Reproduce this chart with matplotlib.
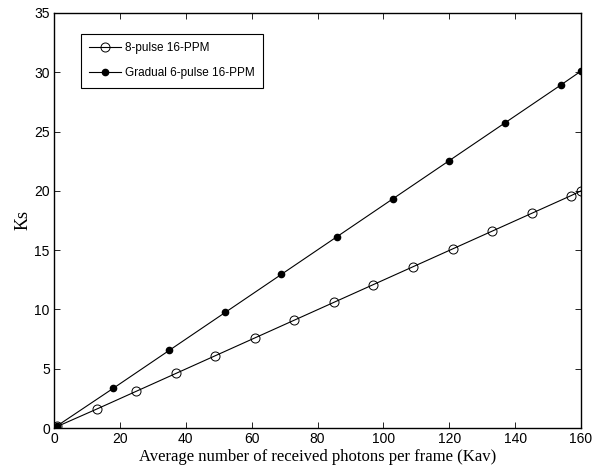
import matplotlib
matplotlib.use("Agg")
import matplotlib.pyplot as plt

x_open = [1, 13, 25, 37, 49, 61, 73, 85, 97, 109, 121, 133, 145, 157, 160]
y_open = [0.13, 1.6, 3.1, 4.6, 6.1, 7.6, 9.1, 10.6, 12.1, 13.6, 15.1, 16.6, 18.1, 19.6, 20.0]
x_fill = [1, 18, 35, 52, 69, 86, 103, 120, 137, 154, 160]
y_fill = [0.19, 3.35, 6.55, 9.75, 12.95, 16.15, 19.35, 22.55, 25.75, 28.95, 30.1]
label_open = "8-pulse 16-PPM"
label_fill = "Gradual 6-pulse 16-PPM"
xticks = [0, 20, 40, 60, 80, 100, 120, 140, 160]
yticks = [0, 5, 10, 15, 20, 25, 30, 35]

fig = plt.figure(figsize=(6.01, 4.68), dpi=100)
ax = fig.add_axes([54/601, 40/468, 527/601, 415/468])

ax.plot(x_open, y_open, color='black', lw=0.8, marker='o', ms=6.5,
        mfc='none', mec='black', mew=0.7, label=label_open)
ax.plot(x_fill, y_fill, color='black', lw=0.8, marker='o', ms=4.5,
        mfc='black', mec='black', label=label_fill)

ax.set_xlim(0, 160)
ax.set_ylim(0, 35)
ax.set_xticks(xticks)
ax.set_yticks(yticks)
ax.tick_params(direction='in', top=True, right=True, length=4, width=0.6,
               labelsize=10, pad=3)
for lab in ax.get_xticklabels() + ax.get_yticklabels():
    lab.set_fontfamily('Liberation Sans')
for s in ax.spines.values():
    s.set_linewidth(1.0)

ax.set_xlabel("Average number of received photons per frame (Kav)",
              fontfamily='Liberation Serif', fontsize=12, labelpad=2)
ax.set_ylabel("Ks", fontfamily='Liberation Serif', fontsize=13, labelpad=2)

leg = ax.legend(loc='upper left', bbox_to_anchor=(0.051, 0.949), borderaxespad=0,
                prop={'family': 'Liberation Sans', 'size': 8.5}, fancybox=False,
                framealpha=1, edgecolor='black', handlelength=2.7, borderpad=0.7,
                labelspacing=1.1, handletextpad=0.35)
leg.get_frame().set_linewidth(0.8)

fig.savefig("out.png", dpi=100)
